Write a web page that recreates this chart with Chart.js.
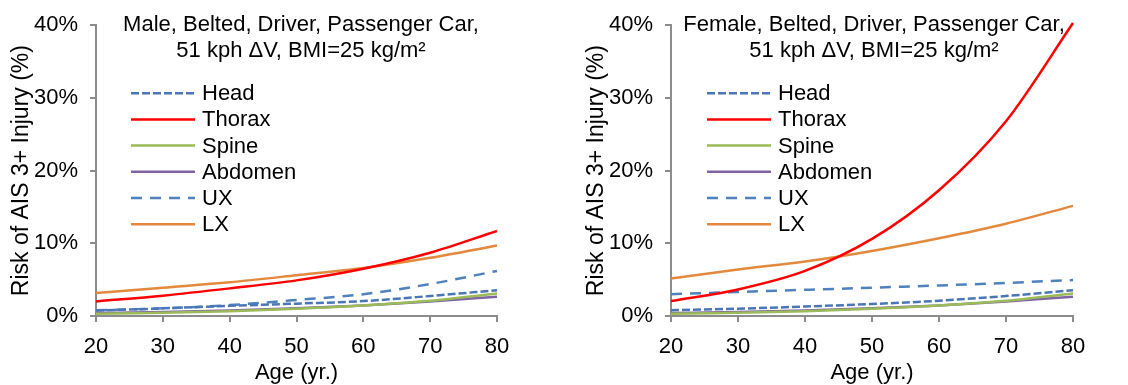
<!DOCTYPE html>
<html>
<head>
<meta charset="utf-8">
<script src="https://cdn.jsdelivr.net/npm/chart.js@4/dist/chart.umd.min.js"></script>
<style>
    html, body { margin: 0; padding: 0; background: #fff; }
    .row { display: flex; width: 1128px; height: 385px; }
    .panel { position: relative; width: 564px; height: 385px; }
</style>
</head>
<body>
<div class="row">
    <div class="panel"><canvas id="maleChart"></canvas></div>
    <div class="panel"><canvas id="femaleChart"></canvas></div>
</div>
<script>
// ages on the x axis
const ages = [20, 30, 40, 50, 60, 70, 80];
const seriesNames = ['Head', 'Thorax', 'Spine', 'Abdomen', 'UX', 'LX'];
const xTicks = [20, 30, 40, 50, 60, 70, 80];
const yTicks = [0, 10, 20, 30, 40];

// risk (%)
const maleHead = [0.75, 1.05, 1.4, 1.7, 2.05, 2.75, 3.55];
const maleThorax = [2.0, 2.8, 3.8, 4.9, 6.5, 8.7, 11.7];
const maleSpine = [0.3, 0.45, 0.65, 1.0, 1.45, 2.1, 3.1];
const maleAbdomen = [0.4, 0.55, 0.75, 1.05, 1.45, 2.0, 2.65];
const maleUX = [0.8, 1.05, 1.5, 2.2, 3.0, 4.4, 6.2];
const maleLX = [3.15, 3.9, 4.65, 5.6, 6.6, 8.0, 9.7];

// risk (%)
const femaleHead = [0.8, 1.0, 1.3, 1.65, 2.1, 2.75, 3.55];
const femaleThorax = [2.05, 3.65, 6.2, 10.6, 17.3, 26.8, 40.3];
const femaleSpine = [0.3, 0.45, 0.65, 1.0, 1.45, 2.1, 3.1];
const femaleAbdomen = [0.4, 0.55, 0.75, 1.05, 1.45, 2.0, 2.65];
const femaleUX = [3.0, 3.3, 3.6, 3.9, 4.2, 4.55, 4.95];
const femaleLX = [5.15, 6.4, 7.5, 8.95, 10.7, 12.7, 15.15];

const FONT = "'Liberation Sans', Arial, Helvetica, sans-serif";
const AXIS_GREY = '#8c8c8c';

const seriesStyle = [
    { color: '#4a76b8', dash: [8, 3] },
    { color: '#ff0000', dash: [] },
    { color: '#9bbb59', dash: [] },
    { color: '#8064a2', dash: [] },
    { color: '#4f81bd', dash: [11, 8] },
    { color: '#e3893d', dash: [] },
];

// title + legend drawn inside the plot area
const panelText = {
    id: 'panelText',
    afterDraw(chart, args, opts) {
        const { ctx, chartArea } = chart;
        ctx.save();
        ctx.fillStyle = '#000';
        ctx.font = `22px ${FONT}`;
        ctx.textAlign = 'center';
        ctx.textBaseline = 'middle';
        opts.title.forEach((line, i) => {
            ctx.fillText(line, chartArea.left + opts.titleX, chartArea.top + opts.titleY + i * 25.5);
        });

        ctx.textAlign = 'left';
        chart.data.datasets.forEach((ds, i) => {
            const x = chartArea.left + opts.legendX;
            const y = chartArea.top + opts.legendY + i * 26.2;
            ctx.strokeStyle = ds.borderColor;
            ctx.lineWidth = ds.borderWidth;
            ctx.setLineDash(ds.borderDash || []);
            ctx.beginPath();
            ctx.moveTo(x, y);
            ctx.lineTo(x + 64, y);
            ctx.stroke();
            ctx.setLineDash([]);
            ctx.fillText(ds.label, x + 71, y + 1);
        });
        ctx.restore();
    },
};

function buildDatasets(values) {
    return seriesNames.map((name, i) => ({
        label: name,
        data: ages.map((age, k) => ({ x: age, y: values[i][k] })),
        borderColor: seriesStyle[i].color,
        backgroundColor: seriesStyle[i].color,
        borderDash: seriesStyle[i].dash,
        borderWidth: 2.5,
        pointRadius: 0,
        cubicInterpolationMode: 'monotone',
        clip: 4,
    }));
}

function makeChart(canvasId, values, title, yWidth, padRight, yTitlePad, textPos) {
    const canvas = document.getElementById(canvasId);
    return new Chart(canvas.getContext('2d'), {
        type: 'line',
        data: { datasets: buildDatasets(values) },
        options: {
            responsive: false,
            animation: false,
            layout: { padding: { top: 24, right: padRight, bottom: 0, left: 0 } },
            plugins: {
                legend: { display: false },
                tooltip: { enabled: false },
                panelText: Object.assign({ title: title }, textPos),
            },
            scales: {
                x: {
                    type: 'linear',
                    min: xTicks[0],
                    max: xTicks[xTicks.length - 1],
                    afterBuildTicks(scale) { scale.ticks = xTicks.map((v) => ({ value: v })); },
                    afterFit(scale) { scale.height = 69; },
                    ticks: { color: '#000', font: { family: FONT, size: 22 }, padding: 12, maxRotation: 0 },
                    grid: { drawOnChartArea: false, drawTicks: true, tickLength: 6, color: AXIS_GREY, lineWidth: 2 },
                    border: { color: AXIS_GREY, width: 2 },
                    title: { display: true, text: 'Age (yr.)', color: '#000', font: { family: FONT, size: 22, lineHeight: 1.1 }, padding: { top: 0, bottom: 0 } },
                },
                y: {
                    min: yTicks[0],
                    max: yTicks[yTicks.length - 1],
                    afterBuildTicks(scale) { scale.ticks = yTicks.map((v) => ({ value: v })); },
                    afterFit(scale) { scale.width = yWidth; },
                    ticks: { color: '#000', font: { family: FONT, size: 22 }, padding: 12, callback: (v) => v + '%' },
                    grid: { drawOnChartArea: false, drawTicks: true, tickLength: 6, color: AXIS_GREY, lineWidth: 2 },
                    border: { color: AXIS_GREY, width: 2 },
                    title: { display: true, text: 'Risk of AIS 3+ Injury (%)', color: '#000', font: { family: FONT, size: 23 }, padding: { top: yTitlePad, bottom: 0 } },
                },
            },
        },
        plugins: [panelText],
    });
}

function sizeCanvas(id) {
    const c = document.getElementById(id);
    c.width = 564;
    c.height = 385;
    c.style.width = '564px';
    c.style.height = '385px';
}
sizeCanvas('maleChart');
sizeCanvas('femaleChart');

makeChart('maleChart',
    [maleHead, maleThorax, maleSpine, maleAbdomen, maleUX, maleLX],
    ['Male, Belted, Driver, Passenger Car,', '51 kph \u0394V, BMI=25 kg/m\u00b2'],
    96, 67, 8,
    { titleX: 205, titleY: 0, legendX: 35, legendY: 68 });

makeChart('femaleChart',
    [femaleHead, femaleThorax, femaleSpine, femaleAbdomen, femaleUX, femaleLX],
    ['Female, Belted, Driver, Passenger Car,', '51 kph \u0394V, BMI=25 kg/m\u00b2'],
    107, 55, 19,
    { titleX: 203, titleY: 0, legendX: 36, legendY: 68 });
</script>
</body>
</html>
